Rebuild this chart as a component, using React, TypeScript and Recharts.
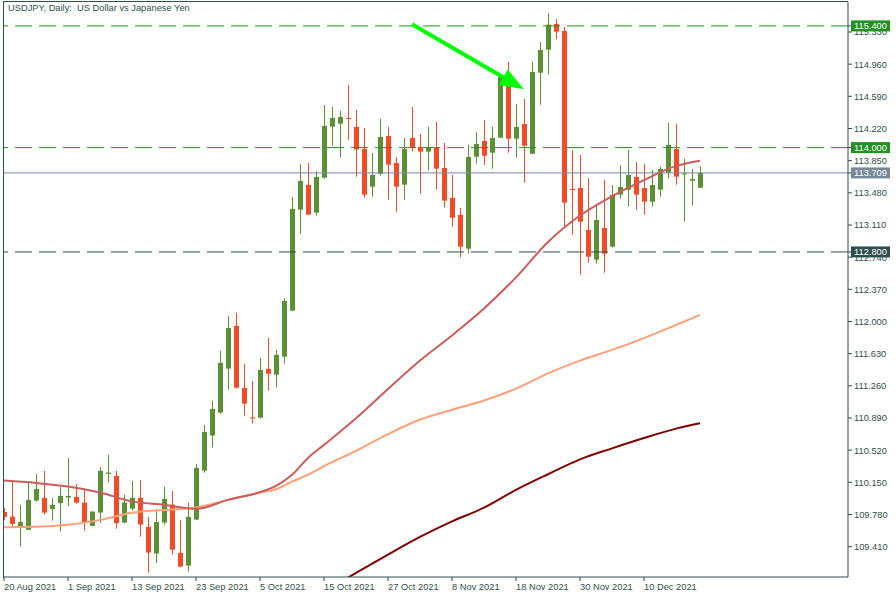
import React from 'react';
import { ComposedChart, Bar, Line, XAxis, YAxis, ReferenceLine } from 'recharts';

// trading days shown on the chart
const dates = [
  '20 Aug 2021', '23 Aug 2021', '24 Aug 2021', '25 Aug 2021', '26 Aug 2021', '27 Aug 2021', '30 Aug 2021', '31 Aug 2021',
  '1 Sep 2021', '2 Sep 2021', '3 Sep 2021', '6 Sep 2021', '7 Sep 2021', '8 Sep 2021', '9 Sep 2021', '10 Sep 2021',
  '13 Sep 2021', '14 Sep 2021', '15 Sep 2021', '16 Sep 2021', '17 Sep 2021', '20 Sep 2021', '21 Sep 2021', '22 Sep 2021',
  '23 Sep 2021', '24 Sep 2021', '27 Sep 2021', '28 Sep 2021', '29 Sep 2021', '30 Sep 2021', '1 Oct 2021', '4 Oct 2021',
  '5 Oct 2021', '6 Oct 2021', '7 Oct 2021', '8 Oct 2021', '11 Oct 2021', '12 Oct 2021', '13 Oct 2021', '14 Oct 2021',
  '15 Oct 2021', '18 Oct 2021', '19 Oct 2021', '20 Oct 2021', '21 Oct 2021', '22 Oct 2021', '25 Oct 2021', '26 Oct 2021',
  '27 Oct 2021', '28 Oct 2021', '29 Oct 2021', '1 Nov 2021', '2 Nov 2021', '3 Nov 2021', '4 Nov 2021', '5 Nov 2021',
  '8 Nov 2021', '9 Nov 2021', '10 Nov 2021', '11 Nov 2021', '12 Nov 2021', '15 Nov 2021', '16 Nov 2021', '17 Nov 2021',
  '18 Nov 2021', '19 Nov 2021', '22 Nov 2021', '23 Nov 2021', '24 Nov 2021', '25 Nov 2021', '26 Nov 2021', '29 Nov 2021',
  '30 Nov 2021', '1 Dec 2021', '2 Dec 2021', '3 Dec 2021', '6 Dec 2021', '7 Dec 2021', '8 Dec 2021', '9 Dec 2021',
  '10 Dec 2021', '13 Dec 2021', '14 Dec 2021', '15 Dec 2021', '16 Dec 2021', '17 Dec 2021', '20 Dec 2021', '21 Dec 2021',
];

const open = [
  109.810, 109.756, 109.634, 109.603, 109.940, 109.971, 109.845, 109.910, 109.975, 109.983, 109.917, 109.649, 109.802, 110.247, 110.224, 109.687,
  109.848, 109.971, 109.638, 109.331, 109.687, 109.894, 109.339, 109.192, 109.721, 110.285, 110.688, 110.952, 111.458, 111.949, 111.236, 110.897,
  110.894, 111.455, 111.389, 111.596, 112.125, 113.286, 113.571, 113.252, 113.654, 114.241, 114.275, 114.341, 114.238, 113.985, 113.551, 113.700,
  114.134, 113.824, 113.574, 114.111, 114.008, 113.954, 113.996, 113.766, 113.421, 113.226, 112.838, 113.896, 114.077, 113.942, 114.114, 114.735,
  114.103, 114.272, 113.930, 114.862, 115.127, 115.422, 115.342, 113.524, 113.536, 113.053, 112.711, 113.076, 112.861, 113.459, 113.516, 113.663,
  113.536, 113.378, 113.516, 113.712, 113.985, 113.691, 113.620, 113.539,
];
const high = [
  109.856, 110.170, 109.891, 110.140, 110.247, 110.282, 109.971, 110.101, 110.431, 110.132, 110.083, 109.814, 110.324, 110.465, 110.282, 110.006,
  110.167, 110.178, 109.753, 109.825, 110.098, 110.052, 109.718, 109.914, 110.362, 110.811, 111.087, 111.662, 112.064, 112.099, 111.512, 111.317,
  111.581, 111.814, 111.673, 112.268, 113.433, 113.812, 113.824, 113.732, 114.490, 114.467, 114.422, 114.721, 114.433, 114.226, 113.938, 114.330,
  114.238, 113.893, 114.111, 114.467, 114.157, 114.238, 114.295, 114.053, 113.685, 113.306, 114.034, 114.180, 114.318, 114.241, 114.824, 114.985,
  114.502, 114.563, 114.988, 115.215, 115.548, 115.480, 115.388, 113.970, 113.915, 113.651, 113.329, 113.628, 113.570, 113.800, 113.973, 113.835,
  113.812, 113.743, 113.778, 114.284, 114.272, 113.870, 113.755, 113.789,
];
const low = [
  109.718, 109.649, 109.411, 109.600, 109.928, 109.776, 109.710, 109.584, 109.879, 109.905, 109.595, 109.645, 109.687, 110.147, 109.618, 109.680,
  109.825, 109.526, 109.112, 109.220, 109.664, 109.319, 109.175, 109.123, 109.715, 110.262, 110.550, 110.940, 111.216, 111.228, 110.917, 110.826,
  110.883, 111.205, 111.240, 111.515, 112.120, 113.010, 113.225, 113.217, 113.643, 114.023, 113.884, 114.092, 113.666, 113.424, 113.436, 113.677,
  113.401, 113.263, 113.401, 113.954, 113.471, 113.735, 113.516, 113.310, 113.091, 112.739, 112.781, 113.816, 113.801, 113.758, 114.110, 113.942,
  113.884, 113.597, 113.925, 114.494, 114.839, 115.249, 113.079, 112.999, 112.539, 112.677, 112.665, 112.562, 112.850, 113.413, 113.321, 113.286,
  113.229, 113.321, 113.436, 113.643, 113.574, 113.148, 113.332, 113.535,
];
const close = [
  109.752, 109.672, 109.695, 109.948, 110.074, 109.802, 109.891, 109.994, 109.994, 109.917, 109.687, 109.814, 110.282, 110.262, 109.680, 109.917,
  109.971, 109.664, 109.342, 109.695, 109.960, 109.376, 109.181, 109.753, 110.316, 110.730, 110.994, 111.524, 111.926, 111.239, 111.055, 110.885,
  111.443, 111.400, 111.616, 112.237, 113.295, 113.617, 113.229, 113.663, 114.249, 114.341, 114.353, 114.333, 113.977, 113.459, 113.685, 114.122,
  113.804, 113.551, 113.985, 114.000, 113.954, 113.996, 113.758, 113.390, 113.194, 112.861, 113.893, 114.042, 113.907, 114.111, 114.813, 114.103,
  114.238, 114.022, 114.870, 115.123, 115.414, 115.333, 113.367, 113.513, 113.148, 112.746, 113.168, 112.780, 113.455, 113.547, 113.685, 113.459,
  113.378, 113.571, 113.755, 114.031, 113.666, 113.703, 113.640, 113.709,
];

// moving averages, read at these bar positions
const maIdx = [0, 4, 8, 12, 16, 20, 24, 28, 32, 34, 36, 38, 40, 44, 48, 52, 56, 60, 64, 68, 72, 76, 80, 84, 87];
const maFast = [
  110.170, 110.143, 110.101, 110.032, 109.931, 109.891, 109.845, 109.948, 110.037, 110.108, 110.236, 110.431, 110.581,
  110.887, 111.224, 111.551, 111.840, 112.150, 112.508, 112.915, 113.219, 113.441, 113.626, 113.790, 113.850,
];
const maMid = [
  109.634, 109.638, 109.661, 109.718, 109.799, 109.833, 109.862, 109.948, 110.032, 110.071, 110.158, 110.238, 110.336,
  110.511, 110.704, 110.872, 110.985, 111.092, 111.228, 111.404, 111.550, 111.673, 111.809, 111.960, 112.076,
];
const maSlowIdx = [43, 44, 48, 52, 56, 60, 64, 68, 72, 76, 80, 84, 87];
const maSlow = [109.054, 109.108, 109.319, 109.522, 109.701, 109.858, 110.063, 110.243, 110.414, 110.541, 110.660, 110.768, 110.830];

const dateTicks = ['20 Aug 2021', '1 Sep 2021', '13 Sep 2021', '23 Sep 2021', '5 Oct 2021', '15 Oct 2021', '27 Oct 2021', '8 Nov 2021', '18 Nov 2021', '30 Nov 2021', '10 Dec 2021'];
const priceTicks = [109.41, 109.78, 110.15, 110.52, 110.89, 111.26, 111.63, 112.0, 112.37, 112.74, 113.11, 113.48, 113.85, 114.22, 114.59, 114.96, 115.33];
const levels = [115.4, 114.0, 112.8];
const lastPrice = 113.709;
const arrowFrom = { date: '1 Nov 2021', price: 115.42 };
const arrowTo = { date: '19 Nov 2021', price: 114.671 };

const EMPTY_SLOTS = 18;

const UP = '#5b9134';
const DOWN = '#f14c26';
const AXIS = '#2f4f4f';
const LEVEL_GREEN = '#239023';
const FONT = '"Liberation Sans", Arial, sans-serif';

const tagColors: Record<string, string> = {
  '115.400': LEVEL_GREEN,
  '114.000': LEVEL_GREEN,
  '113.709': '#778899',
  '112.800': AXIS,
};

const data: any[] = dates.map((d, i) => ({
  date: d,
  open: open[i],
  high: high[i],
  low: low[i],
  close: close[i],
  range: [low[i], high[i]],
  maFast: null,
  maMid: null,
  maSlow: null,
}));
maIdx.forEach((idx, k) => {
  data[idx].maFast = maFast[k];
  data[idx].maMid = maMid[k];
});
maSlowIdx.forEach((idx, k) => {
  data[idx].maSlow = maSlow[k];
});
for (let k = 0; k < EMPTY_SLOTS; k++) {
  data.push({ date: `pad${k}`, range: null, maFast: null, maMid: null, maSlow: null });
}

const Candle = (props: any) => {
  const { x, y, width, height, payload } = props;
  if (!payload || payload.open == null || height == null) return null;
  const { open: o, close: c, high: h, low: l } = payload;
  const span = Math.abs(height);
  const top = height >= 0 ? y : y + height;
  const k = span / (h - l || 1);
  const cx = Math.round(x + width / 2);
  const bodyTop = top + (h - Math.max(o, c)) * k;
  const bodyBottom = top + (h - Math.min(o, c)) * k;
  const color = c >= o ? UP : DOWN;
  return (
    <g>
      <line x1={cx + 0.5} x2={cx + 0.5} y1={top} y2={top + span} stroke={color} strokeWidth={1} />
      <rect x={cx - 2} y={bodyTop} width={5} height={Math.max(1, bodyBottom - bodyTop)} fill={color} />
    </g>
  );
};

const DateTick = ({ x, y, payload }: any) => (
  <text x={x} y={y + 9} textAnchor="start" fill={AXIS} fontSize={9.3} fontFamily={FONT}>
    {payload.value}
  </text>
);

const PriceTick = ({ x, y, payload }: any) => {
  const label = Number(payload.value).toFixed(3);
  const tag = tagColors[label];
  if (tag) {
    return (
      <g>
        <rect x={x - 3} y={y - 5.5} width={39} height={11} fill={tag} />
        <text x={x} y={y + 3.5} fill="#ffffff" fontSize={9.3} fontFamily={FONT}>{label}</text>
      </g>
    );
  }
  return (
    <text x={x} y={y + 3.5} fill={AXIS} fontSize={9.3} fontFamily={FONT}>{label}</text>
  );
};

const Arrow = (props: any) => {
  const { x1, y1, x2, y2 } = props;
  if (x1 == null || x2 == null) return null;
  const dx = x2 - x1;
  const dy = y2 - y1;
  const len = Math.sqrt(dx * dx + dy * dy) || 1;
  const ux = dx / len;
  const uy = dy / len;
  const bx = x2 - ux * 24;
  const by = y2 - uy * 24;
  const nx = -uy * 9;
  const ny = ux * 9;
  return (
    <g>
      <line x1={x1} y1={y1} x2={bx + ux * 2} y2={by + uy * 2} stroke="#00ff00" strokeWidth={4} />
      <polygon points={`${x2},${y2} ${bx + nx},${by + ny} ${bx - nx},${by - ny}`} fill="#00ff00" />
    </g>
  );
};

export default function App() {
  return (
    <div style={{ position: 'absolute', left: 0, top: 0, width: 896, height: 598, background: '#ffffff' }}>
      <ComposedChart
        width={896}
        height={598}
        data={data}
        margin={{ top: 2, right: 0, bottom: 0, left: 0 }}
        barCategoryGap={1}
      >
        <XAxis
          dataKey="date"
          ticks={dateTicks}
          interval={0}
          height={21}
          tickSize={4}
          tickMargin={0}
          axisLine={{ stroke: AXIS }}
          tickLine={{ stroke: AXIS }}
          tick={<DateTick />}
        />
        <YAxis
          orientation="right"
          width={48}
          domain={[109.061, 115.675]}
          allowDataOverflow
          ticks={[...priceTicks, lastPrice, ...levels]}
          interval={0}
          tickSize={4}
          tickMargin={2}
          axisLine={{ stroke: AXIS }}
          tickLine={{ stroke: AXIS }}
          tick={<PriceTick />}
        />
        <ReferenceLine y={lastPrice} stroke="#778899" strokeWidth={1} />
        <ReferenceLine y={levels[0]} stroke={LEVEL_GREEN} strokeDasharray="17 7" strokeWidth={1} />
        <ReferenceLine y={levels[1]} stroke={LEVEL_GREEN} strokeDasharray="17 7" strokeWidth={1} />
        <ReferenceLine y={levels[2]} stroke={AXIS} strokeDasharray="17 7" strokeWidth={1} />
        <Bar dataKey="range" shape={<Candle />} isAnimationActive={false} />
        <Line type="monotone" dataKey="maSlow" stroke="#800000" strokeWidth={2} dot={false} connectNulls isAnimationActive={false} />
        <Line type="monotone" dataKey="maMid" stroke="#ffa07a" strokeWidth={2} dot={false} connectNulls isAnimationActive={false} />
        <Line type="monotone" dataKey="maFast" stroke="#cd5c5c" strokeWidth={2} dot={false} connectNulls isAnimationActive={false} />
        <ReferenceLine
          segment={[
            { x: arrowFrom.date, y: arrowFrom.price },
            { x: arrowTo.date, y: arrowTo.price },
          ]}
          ifOverflow="visible"
          shape={<Arrow />}
        />
      </ComposedChart>
      <div style={{ position: 'absolute', left: 0, top: 0, width: 3, height: 578, background: '#ffffff' }} />
      <div style={{ position: 'absolute', left: 3, top: 1, width: 1, height: 577, background: AXIS }} />
      <div style={{ position: 'absolute', left: 3, top: 1, width: 845, height: 1, background: AXIS }} />
      <div
        style={{
          position: 'absolute',
          left: 8,
          top: 2,
          fontFamily: FONT,
          fontSize: 9.3,
          lineHeight: '12px',
          color: AXIS,
          whiteSpace: 'pre',
        }}
      >
        {'USDJPY, Daily:  US Dollar vs Japanese Yen'}
      </div>
    </div>
  );
}
